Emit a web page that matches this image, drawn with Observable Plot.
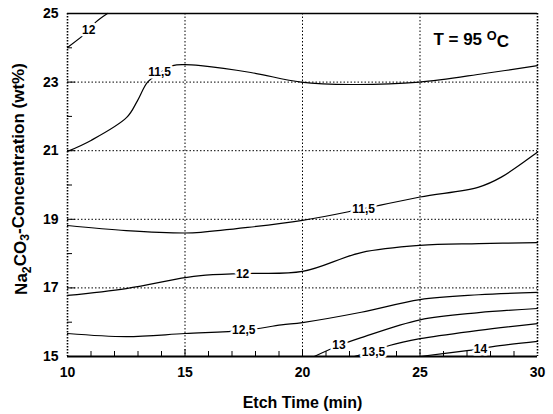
<!DOCTYPE html>
<html><head><meta charset="utf-8">
<script src="https://cdn.jsdelivr.net/npm/d3@7"></script>
<script src="https://cdn.jsdelivr.net/npm/@observablehq/plot@0.6"></script>
<style>
body{margin:0;background:#fff;}
svg{font-family:"Liberation Sans",Arial,sans-serif;}
</style>
</head><body><div id="chart"></div>
<script>
// Axis ticks
const xLabels = [10, 15, 20, 25, 30];
const yLabels = [15, 17, 19, 21, 23, 25];
const xMinor = d3.range(11, 30).filter(d => d % 5 !== 0);
const yMinor = [16, 18, 20, 22, 24];
const xGrid = [15, 20, 25];
const yGrid = [17, 19, 21, 23];

// Contour lines (Etch time, Na2CO3 wt%)
const c12top   = [[10,24.01],[10.9,24.5],[11.19,24.74],[11.7,25.0]];
const c115up   = [[10,20.98],[11.0,21.3],[12.52,21.97],[12.98,22.46],[13.4,22.99],[13.95,23.28],[14.48,23.48],[14.95,23.51],[15.67,23.48],[17.8,23.28],[19.94,23.0],[22.07,22.93],[24.97,23.0],[27.74,23.25],[30,23.48]];
const c115low  = [[10,18.82],[12.5,18.67],[15,18.6],[15.67,18.62],[20,18.97],[22.6,19.31],[25,19.65],[27.5,19.94],[28.46,20.23],[30,20.96]];
const c12mid   = [[10,16.78],[12.5,16.98],[15,17.3],[15.67,17.36],[17.45,17.42],[20,17.48],[22.5,18.03],[25,18.24],[27.5,18.29],[30,18.32]];
const c125     = [[10,15.67],[12.5,15.58],[15,15.67],[17.5,15.76],[19.1,15.92],[20,15.99],[22.5,16.29],[25,16.66],[27.5,16.8],[30,16.87]];
const c13      = [[20.5,15.0],[21.55,15.32],[22.5,15.55],[25,16.07],[27.5,16.28],[30,16.4]];
const c135     = [[22.2,15.0],[23.02,15.15],[23.7,15.32],[25,15.52],[27.5,15.76],[30,15.96]];
const c14      = [[25,15.0],[27.0,15.17],[27.57,15.22],[28.1,15.29],[30,15.44]];

// Contour labels
const labelText = ["12", "11,5", "11,5", "12", "12,5", "13", "13,5", "14"];
const labelX    = [10.9, 13.92, 22.6, 17.45, 17.5, 21.55, 23.02, 27.57];
const labelY    = [24.5, 23.28, 19.31, 17.39, 15.76, 15.32, 15.12, 15.2];

const contours = {c12top, c115up, c115low, c12mid, c125, c13, c135, c14};
const lineData = Object.entries(contours).flatMap(([id, pts]) => pts.map(([x, y]) => ({id, x, y})));
const labels = labelText.map((t, i) => ({t, x: labelX[i], y: labelY[i]}));

const W = 553, H = 414, ML = 67, MR = 16, MT = 13, MB = 58;
const innerW = W - ML - MR, innerH = H - MT - MB;

const plot = Plot.plot({
  width: W, height: H,
  marginLeft: ML, marginRight: MR, marginTop: MT, marginBottom: MB,
  style: {fontFamily: "'Liberation Sans', Arial, sans-serif", fontWeight: "bold", background: "white"},
  x: {domain: [10, 30], label: null},
  y: {domain: [15, 25], label: null},
  marks: [
    Plot.gridX(xGrid, {stroke: "black", strokeOpacity: 1, strokeWidth: 1, strokeDasharray: "1.5,2"}),
    Plot.gridY(yGrid, {stroke: "black", strokeOpacity: 1, strokeWidth: 1, strokeDasharray: "1.5,2"}),
    Plot.gridX([10, 30], {stroke: "black", strokeOpacity: 1, strokeWidth: 1.6, strokeDasharray: "1.5,1.5"}),
    Plot.ruleY([25], {stroke: "black", strokeWidth: 1.5}),
    Plot.ruleY([15], {stroke: "black", strokeWidth: 2}),
    // inward ticks
    Plot.tickX(xMinor, {x: d => d, stroke: "black", strokeWidth: 1, insetTop: innerH - 5}),
    Plot.tickX(xGrid, {x: d => d, stroke: "black", strokeWidth: 1, insetTop: innerH - 7}),
    Plot.tickY(yMinor, {y: d => d, stroke: "black", strokeWidth: 1, insetRight: innerW - 5}),
    Plot.tickY(yGrid, {y: d => d, stroke: "black", strokeWidth: 1, insetRight: innerW - 8}),
    Plot.line(lineData, {x: "x", y: "y", z: "id", curve: "catmull-rom", stroke: "black", strokeWidth: 1.2}),
    Plot.text(labels, {x: "x", y: "y", text: "t", fontSize: 12, fontWeight: "bold", fill: "black", stroke: "white", strokeWidth: 5}),
    Plot.axisX(xLabels, {tickSize: 0, tickPadding: 11, fontSize: 14, fontWeight: "bold", label: null}),
    Plot.axisY(yLabels, {tickSize: 0, tickPadding: 9, fontSize: 14, fontWeight: "bold", label: null}),
    Plot.text(["Etch Time (min)"], {frameAnchor: "bottom", dy: 46, textAnchor: "middle", lineAnchor: "middle", fontSize: 16, fontWeight: "bold"}),
    Plot.text(["Na2CO3-Concentration (wt%)"], {frameAnchor: "left", dx: -46, dy: -6, rotate: -90, textAnchor: "middle", lineAnchor: "middle", fontSize: 17, fontWeight: "bold"}),
    Plot.text(["T = 95 OC"], {x: 25.57, y: 24.07, textAnchor: "start", lineAnchor: "bottom", fontSize: 17, fontWeight: "bold"})
  ]
});
document.getElementById("chart").appendChild(plot);

// rich text: subscripts and superscript
d3.select(plot).selectAll("text").each(function() {
  const el = d3.select(this);
  const s = this.textContent;
  if (s === "Na2CO3-Concentration (wt%)") {
    el.text(null);
    el.append("tspan").text("Na");
    el.append("tspan").attr("font-size", "0.72em").attr("dy", "0.3em").text("2");
    el.append("tspan").attr("dy", "-0.3em").text("CO");
    el.append("tspan").attr("font-size", "0.72em").attr("dy", "0.3em").text("3");
    el.append("tspan").attr("dy", "-0.3em").text("-Concentration (wt%)");
  } else if (s === "T = 95 OC") {
    el.text(null);
    el.append("tspan").text("T = 95 ");
    el.append("tspan").attr("font-size", "0.75em").attr("dy", "-0.45em").text("O");
    el.append("tspan").attr("dy", "0.45em").text("C");
  }
});
</script>
</body></html>
